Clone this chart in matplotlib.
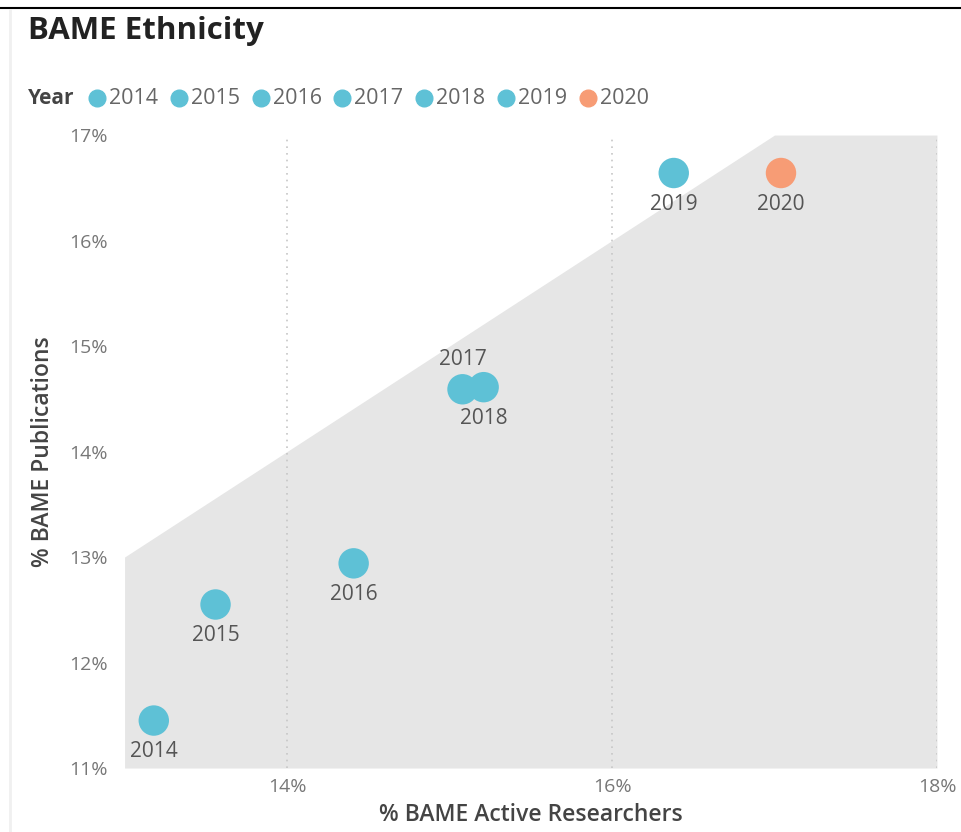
import numpy as np
import matplotlib.pyplot as plt
from matplotlib.lines import Line2D

plt.rcParams['font.family'] = ['Open Sans', 'DejaVu Sans']

# datos
years = ["2014", "2015", "2016", "2017", "2018", "2019", "2020"]
researchers = [13.18, 13.56, 14.41, 15.08, 15.21, 16.38, 17.04]
publications = [11.45, 12.55, 12.94, 14.59, 14.61, 16.64, 16.64]
label_above = [False, False, False, True, False, False, False]
x_ticks = [14, 16, 18]
y_ticks = [11, 12, 13, 14, 15, 16, 17]

teal = "#5EC1D6"
orange = "#F79C75"
colors = [teal] * 6 + [orange]

fig = plt.figure(figsize=(9.61, 8.32), dpi=100)
ax = fig.add_axes([0.1296, 0.0769, 0.975 - 0.1296, 0.8377 - 0.0769])
ax.set_xlim(13, 18)
ax.set_ylim(11, 17)

# zona sombreada bajo la linea y = x
xs = np.array([13, 17, 18])
ax.fill_between(xs, 11, np.minimum(xs, 17), color="#e6e6e6", lw=0, zorder=0)

for gx in x_ticks:
    ax.axvline(gx, color="#c6c6c6", lw=1.2, ls=(0, (1, 3)), zorder=1)

ax.scatter(researchers, publications, s=480, c=colors, zorder=3, lw=0)

for x, y, yr, up in zip(researchers, publications, years, label_above):
    off = 30 if up else -31
    ax.annotate(yr, (x, y), xytext=(0, off), textcoords="offset pixels",
                ha="center", va="center", fontsize=15, color="#555555", zorder=4)

for s in ax.spines.values():
    s.set_visible(False)
ax.set_xticks(x_ticks)
ax.set_xticklabels([f"{t}%" for t in x_ticks])
ax.set_yticks(y_ticks)
ax.set_yticklabels([f"{t}%" for t in y_ticks])
ax.tick_params(length=0, labelsize=14, labelcolor="#777777")
ax.tick_params(axis="x", pad=7)
ax.tick_params(axis="y", pad=12)
ax.set_xlabel("% BAME Active Researchers", fontsize=16.5, fontweight="semibold",
              color="#444444", labelpad=5)
ax.set_ylabel("% BAME Publications", fontsize=16.5, fontweight="semibold",
              color="#444444", labelpad=10)

# titulo y leyenda
fig.text(28 / 961, 1 - 31 / 832, "BAME Ethnicity", fontsize=22.5, fontweight="bold",
         color="#222222", va="center", ha="left")
fig.text(28 / 961, 1 - 98 / 832, "Year", fontsize=15, fontweight="bold",
         color="#444444", va="center", ha="left")
for i, (yr, c) in enumerate(zip(years, colors)):
    dx = (97 + i * 81.8) / 961
    fig.add_artist(Line2D([dx], [1 - 98 / 832], marker="o", markersize=12,
                          color=c, lw=0, transform=fig.transFigure))
    fig.text(dx + 12 / 961, 1 - 98 / 832, yr, fontsize=15.5, color="#666666",
             va="center", ha="left")

# linea negra superior del recorte
fig.add_artist(Line2D([0, 1], [1 - 8 / 832, 1 - 8 / 832], color="black", lw=1.5,
                      transform=fig.transFigure))
fig.add_artist(Line2D([10 / 961, 10 / 961], [0, 1 - 10 / 832], color="#f0f0f0", lw=2,
                      transform=fig.transFigure))

fig.savefig("out.png", dpi=100)
